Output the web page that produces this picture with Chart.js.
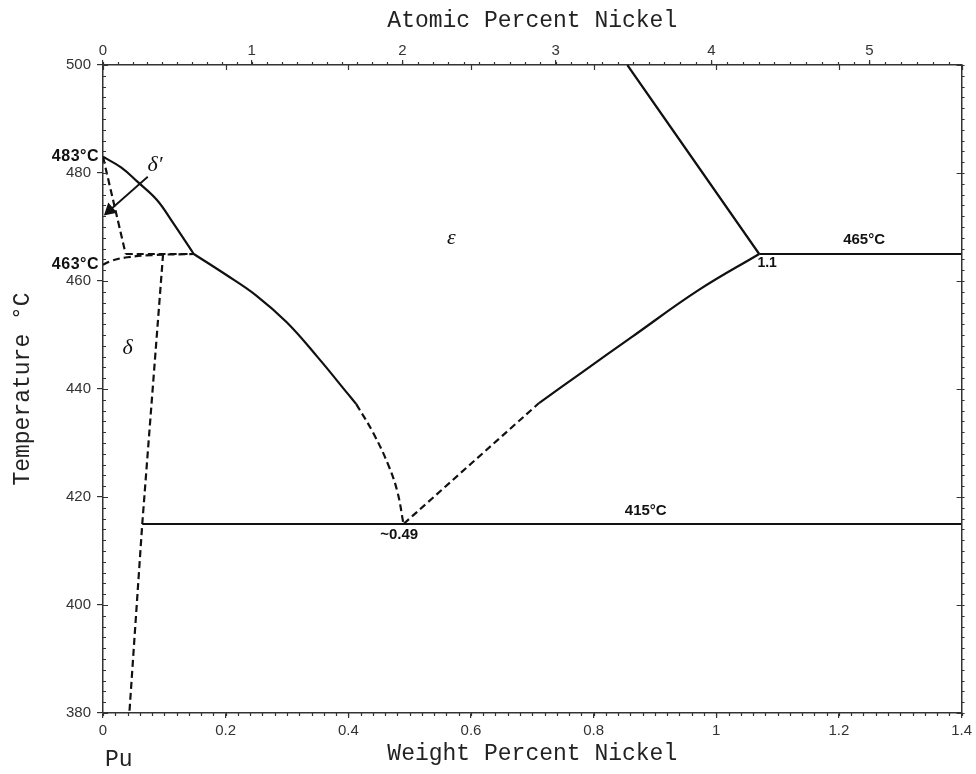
<!DOCTYPE html>
<html><head><meta charset="utf-8">
<script src="https://cdn.jsdelivr.net/npm/chart.js@4.4.1/dist/chart.umd.min.js"></script>
<style>html,body{margin:0;padding:0;background:#fff}#wrap{width:976px;height:774px}</style>
</head><body><div id="wrap"><canvas id="c" width="976" height="774"></canvas></div>
<script>
// ---- tick values / labels ----
const weightTicks = [0, 0.2, 0.4, 0.6, 0.8, 1.0, 1.2, 1.4];
const weightTickLabels = ['0', '0.2', '0.4', '0.6', '0.8', '1', '1.2', '1.4'];
const atomicTicks = [0, 1, 2, 3, 4, 5];
const atomicTickLabels = ['0', '1', '2', '3', '4', '5'];
const tempTicks = [380, 400, 420, 440, 460, 480, 500];
const tempTickLabels = ['380', '400', '420', '440', '460', '480', '500'];

// ---- phase boundaries (weight % Ni, temperature °C) ----
const deltaPrimeLiqX = [0, 0.03, 0.057, 0.088, 0.114, 0.148];
const deltaPrimeLiqT = [483, 481, 478.3, 475, 470.8, 465];
const epsLeftSolidX = [0.148, 0.20, 0.25, 0.30, 0.35, 0.40, 0.413];
const epsLeftSolidT = [465, 461.2, 457.3, 452.3, 445.9, 439.0, 437.2];
const epsLeftDashX = [0.413, 0.44, 0.465, 0.48, 0.49];
const epsLeftDashT = [437.2, 432.0, 426.0, 421.0, 415];
const epsRightSolidX = [0.711, 0.780, 0.862, 0.971, 1.07];
const epsRightSolidT = [437.4, 443.0, 449.6, 458.3, 465];
const epsRightDashX = [0.49, 0.711];
const epsRightDashT = [415, 437.4];
const upperRightX = [0.855, 1.07];
const upperRightT = [500, 465];
const iso465X = [1.07, 1.4];
const iso465T = [465, 465];
const iso415X = [0.064, 1.4];
const iso415T = [415, 415];
const deltaSolvusX = [0.098, 0.064, 0.043];
const deltaSolvusT = [465, 415, 380];
const deltaPrimeSolX = [0, 0.037];
const deltaPrimeSolT = [483, 465];
const dash465X = [0.037, 0.148];
const dash465T = [465, 465];
const curve463X = [0, 0.015, 0.04, 0.08, 0.148];
const curve463T = [463, 463.8, 464.4, 464.8, 465];
const arrowX = [0.073, 0.011];
const arrowT = [479.3, 473.1];

// ---- text annotations ----
const notes = [
  {text: 'ε', x: 0.568, t: 468, font: 'italic 22px "Liberation Serif"'},
  {text: 'δ′', x: 0.085, t: 481.5, font: 'italic 22px "Liberation Serif"'},
  {text: 'δ', x: 0.04, t: 447.6, font: 'italic 22px "Liberation Serif"'},
  {text: '465°C', x: 1.241, t: 467.6, font: 'bold 15px "Liberation Sans"'},
  {text: '1.1', x: 1.083, t: 463.3, font: 'bold 14px "Liberation Sans"'},
  {text: '415°C', x: 0.885, t: 417.4, font: 'bold 15px "Liberation Sans"'},
  {text: '~0.49', x: 0.483, t: 413.0, font: 'bold 15px "Liberation Sans"'}
];
const axisNotes = [
  {text: '483°C', t: 483},
  {text: '463°C', t: 463}
];

function atToWt(a) { return 100 * a * 58.69 / (a * 58.69 + (100 - a) * 244.06); }

function pts(xs, ts) { return xs.map((x, i) => ({x: x, y: ts[i]})); }
function line(xs, ts, dashed) {
  return {data: pts(xs, ts), showLine: true, borderColor: '#111', borderWidth: 2.2,
    borderDash: dashed ? [7, 4] : [], pointRadius: 0, tension: 0.4, fill: false};
}

const datasets = [
  line(deltaPrimeLiqX, deltaPrimeLiqT, false),
  line(epsLeftSolidX, epsLeftSolidT, false),
  line(epsLeftDashX, epsLeftDashT, true),
  line(epsRightSolidX, epsRightSolidT, false),
  line(epsRightDashX, epsRightDashT, true),
  line(upperRightX, upperRightT, false),
  line(iso465X, iso465T, false),
  line(iso415X, iso415T, false),
  Object.assign(line(deltaSolvusX, deltaSolvusT, true), {tension: 0}),
  line(deltaPrimeSolX, deltaPrimeSolT, true),
  line(dash465X, dash465T, true),
  line(curve463X, curve463T, true),
  Object.assign(line(arrowX, arrowT, false), {borderWidth: 1.8, tension: 0,
    pointRadius: c => c.dataIndex === 1 ? 6 : 0, pointStyle: 'triangle',
    pointRotation: 229, pointBackgroundColor: '#111', pointBorderColor: '#111'})
];

const tickFont = {family: '"Liberation Sans", Arial', size: 15};
const titleFont = {family: '"Liberation Mono", "Courier New", monospace', size: 23};
const axisColor = '#333';

const decor = {
  id: 'decor',
  afterDraw(chart) {
    const ctx = chart.ctx;
    const xs = chart.scales.x, ys = chart.scales.y;
    const a = chart.chartArea;
    ctx.save();
    ctx.strokeStyle = axisColor; ctx.lineWidth = 1.2;
    ctx.beginPath();
    for (let i = 0; i <= 70; i++) {
      const px = Math.round(xs.getPixelForValue(i * 0.02)) + 0.5;
      ctx.moveTo(px, a.bottom); ctx.lineTo(px, a.bottom + 3);
      if (i % 10 === 0) { ctx.moveTo(px, a.top); ctx.lineTo(px, a.top + 5); }
    }
    for (let i = 0; i <= 57; i++) {
      const w = atToWt(i * 0.1);
      if (w > 1.4) break;
      const px = Math.round(xs.getPixelForValue(w)) + 0.5;
      ctx.moveTo(px, a.top); ctx.lineTo(px, a.top - 3);
    }
    for (let t = 380; t <= 500; t += 2) {
      const py = Math.round(ys.getPixelForValue(t)) + 0.5;
      ctx.moveTo(a.left, py); ctx.lineTo(a.left + 3, py);
      ctx.moveTo(a.right, py); ctx.lineTo(a.right + 3, py);
      if (t % 20 === 0) {
        ctx.moveTo(a.left, py); ctx.lineTo(a.left + 5, py);
        ctx.moveTo(a.right, py); ctx.lineTo(a.right - 5, py);
      }
    }
    ctx.stroke();
    ctx.fillStyle = '#111';
    ctx.textAlign = 'center'; ctx.textBaseline = 'middle';
    notes.forEach(n => {
      ctx.font = n.font;
      ctx.fillText(n.text, xs.getPixelForValue(n.x), ys.getPixelForValue(n.t));
    });
    ctx.font = 'bold 16px "Liberation Sans"';
    ctx.textAlign = 'right';
    try { ctx.letterSpacing = '0.5px'; } catch (e) {}
    axisNotes.forEach(n => {
      ctx.fillText(n.text, a.left - 4, ys.getPixelForValue(n.t));
    });
    try { ctx.letterSpacing = '0px'; } catch (e) {}
    ctx.font = '23px "Liberation Mono", monospace';
    ctx.textAlign = 'left';
    ctx.fillStyle = '#222';
    ctx.fillText('Pu', xs.getPixelForValue(0) + 2, 760);
    ctx.restore();
  }
};

new Chart(document.getElementById('c'), {
  type: 'scatter',
  data: {datasets: datasets},
  plugins: [decor],
  options: {
    responsive: false, animation: false, devicePixelRatio: 1,
    layout: {padding: 0},
    plugins: {legend: {display: false}, tooltip: {enabled: false}},
    scales: {
      x: {
        type: 'linear', position: 'bottom', min: 0, max: 1.4,
        afterBuildTicks: s => { s.ticks = weightTicks.map(v => ({value: v})); },
        afterFit: s => { s.height = 61; },
        ticks: {autoSkip: false, maxRotation: 0, padding: 4, color: '#333', font: tickFont,
          callback: (v, i) => weightTickLabels[i]},
        grid: {display: true, drawOnChartArea: false, drawTicks: true, tickLength: 5, color: axisColor, lineWidth: 1.2},
        border: {display: true, color: axisColor, width: 1.5},
        title: {display: true, text: 'Weight Percent Nickel', font: titleFont, color: '#222', padding: {top: 0, bottom: 6}}
      },
      x2: {
        type: 'linear', position: 'top', min: 0, max: 1.4,
        afterBuildTicks: s => { s.ticks = atomicTicks.map(v => ({value: atToWt(v)})); },
        afterFit: s => { s.height = 65; },
        ticks: {autoSkip: false, maxRotation: 0, padding: 0, color: '#333', font: tickFont,
          callback: (v, i) => atomicTickLabels[i]},
        grid: {display: true, drawOnChartArea: false, drawTicks: true, tickLength: 5, color: axisColor, lineWidth: 1.2},
        border: {display: true, color: axisColor, width: 1.5},
        title: {display: true, text: 'Atomic Percent Nickel', font: titleFont, color: '#222', padding: {top: 7, bottom: 0}}
      },
      y: {
        type: 'linear', position: 'left', min: 380, max: 500,
        afterBuildTicks: s => { s.ticks = tempTicks.map(v => ({value: v})); },
        afterFit: s => { s.width = 103; },
        ticks: {autoSkip: false, padding: 6, color: '#333', font: tickFont,
          callback: (v, i) => tempTickLabels[i]},
        grid: {display: true, drawOnChartArea: false, drawTicks: true, tickLength: 6, color: axisColor, lineWidth: 1.2},
        border: {display: true, color: axisColor, width: 1.5},
        title: {display: true, text: 'Temperature °C', font: titleFont, color: '#222', padding: {top: 9, bottom: 0}}
      },
      y2: {
        type: 'linear', position: 'right', min: 380, max: 500,
        afterFit: s => { s.width = 10; },
        ticks: {display: false},
        grid: {display: false, drawOnChartArea: false, drawTicks: false},
        border: {display: true, color: axisColor, width: 1.5}
      }
    }
  }
});
</script></body></html>
